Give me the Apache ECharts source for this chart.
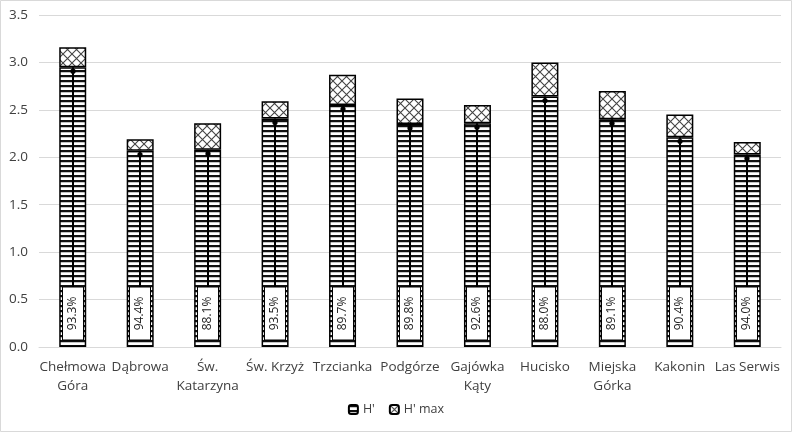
<!DOCTYPE html>
<html>
<head>
<meta charset="utf-8">
<script src="https://cdn.jsdelivr.net/npm/echarts@6/dist/echarts.min.js"></script>
<style>html,body{margin:0;padding:0;background:#fff}#c{width:792px;height:432px}</style>
</head>
<body>
<div id="c"></div>
<script>
const categories = ['Chełmowa\nGóra', 'Dąbrowa', 'Św.\nKatarzyna', 'Św. Krzyż', 'Trzcianka', 'Podgórze', 'Gajówka\nKąty', 'Hucisko', 'Miejska\nGórka', 'Kakonin', 'Las Serwis'];
const hValues = [2.95, 2.07, 2.08, 2.41, 2.55, 2.35, 2.36, 2.64, 2.40, 2.21, 2.03];
const hMaxValues = [3.16, 2.19, 2.36, 2.59, 2.87, 2.62, 2.55, 3.00, 2.70, 2.45, 2.16];
const evennessLabels = ['93.3%', '94.4%', '88.1%', '93.5%', '89.7%', '89.8%', '92.6%', '88.0%', '89.1%', '90.4%', '94.0%'];
const yTickLabels = ['0.0', '0.5', '1.0', '1.5', '2.0', '2.5', '3.0', '3.5'];

function stripePattern() {
  const c = document.createElement('canvas');
  c.width = 4; c.height = 5;
  const ctx = c.getContext('2d');
  ctx.fillStyle = '#fff'; ctx.fillRect(0, 0, 4, 5);
  ctx.fillStyle = '#111'; ctx.fillRect(0, 0, 4, 2);
  ctx.fillStyle = '#888'; ctx.fillRect(0, 2, 4, 0.5);
  return c;
}
function hatchPattern() {
  const c = document.createElement('canvas');
  c.width = 9; c.height = 9;
  const ctx = c.getContext('2d');
  ctx.fillStyle = '#fff'; ctx.fillRect(0, 0, 9, 9);
  ctx.strokeStyle = '#444'; ctx.lineWidth = 1.1;
  ctx.beginPath();
  ctx.moveTo(-1, -1); ctx.lineTo(10, 10);
  ctx.moveTo(10, -1); ctx.lineTo(-1, 10);
  ctx.stroke();
  return c;
}

const diffValues = hMaxValues.map((v, i) => +(v - hValues[i]).toFixed(3));
const chart = echarts.init(document.getElementById('c'), null, {renderer: 'canvas'});
const textColor = '#404040';
const fontFamily = '"Open Sans", "DejaVu Sans", sans-serif';

chart.setOption({
  animation: false,
  backgroundColor: '#fff',
  graphic: [{
    type: 'rect', shape: {x: 0.5, y: 0.5, width: 791, height: 431},
    style: {fill: 'none', stroke: '#d9d9d9', lineWidth: 1}, silent: true
  }],
  grid: {left: 39, right: 11, top: 15, bottom: 85},
  legend: {
    bottom: 11, left: 'center',
    itemWidth: 9, itemHeight: 9, itemGap: 14,
    textStyle: {color: textColor, fontSize: 12.5, fontFamily: fontFamily},
    data: ["H'", "H' max"]
  },
  xAxis: {
    type: 'category', data: categories,
    axisLine: {lineStyle: {color: '#d9d9d9'}},
    axisTick: {show: false},
    axisLabel: {color: textColor, fontSize: 13.5, fontFamily: fontFamily, margin: 11, lineHeight: 19, interval: 0}
  },
  yAxis: {
    type: 'value', min: 0, max: 3.5, interval: 0.5,
    axisLine: {show: false}, axisTick: {show: false},
    splitLine: {lineStyle: {color: '#d9d9d9'}},
    axisLabel: {color: textColor, fontSize: 13.5, fontFamily: fontFamily, margin: 11,
      formatter: (v) => yTickLabels[Math.round(v / 0.5)]}
  },
  series: [
    {
      name: "H'", type: 'bar', stack: 'h', barWidth: 27,
      data: hValues,
      itemStyle: {color: {image: stripePattern(), repeat: 'repeat'}, borderColor: '#000', borderWidth: 1.5}
    },
    {
      name: "H' max", type: 'bar', stack: 'h', barWidth: 27,
      data: diffValues,
      itemStyle: {color: {image: hatchPattern(), repeat: 'repeat'}, borderColor: '#000', borderWidth: 1.5}
    },
    {
      type: 'custom', name: 'evenness', silent: true, z: 5,
      data: hValues.map((v, i) => [i, v, evennessLabels[i]]),
      encode: {x: 0, y: 1},
      renderItem: function (params, api) {
        const i = api.value(0);
        const base = api.coord([i, 0]);
        const top = api.coord([i, api.value(1)]);
        const cx = Math.round(base[0]);
        const boxBottom = base[1] - 7;
        const boxTop = base[1] - 60;
        return {
          type: 'group',
          children: [
            {type: 'line', shape: {x1: cx, y1: boxTop, x2: cx, y2: top[1]}, style: {stroke: '#000', lineWidth: 2}},
            {type: 'circle', shape: {cx: cx, cy: top[1] + 4, r: 2.6}, style: {fill: '#000'}},
            {type: 'rect', shape: {x: cx - 10.5, y: boxTop, width: 21, height: boxBottom - boxTop}, style: {fill: '#fff', stroke: '#000', lineWidth: 1}},
            {type: 'text', x: cx, y: (boxTop + boxBottom) / 2, rotation: Math.PI / 2,
              style: {text: api.value(2), fill: '#222', font: '12px ' + fontFamily, align: 'center', verticalAlign: 'middle'}}
          ]
        };
      }
    }
  ]
});
</script>
</body>
</html>
